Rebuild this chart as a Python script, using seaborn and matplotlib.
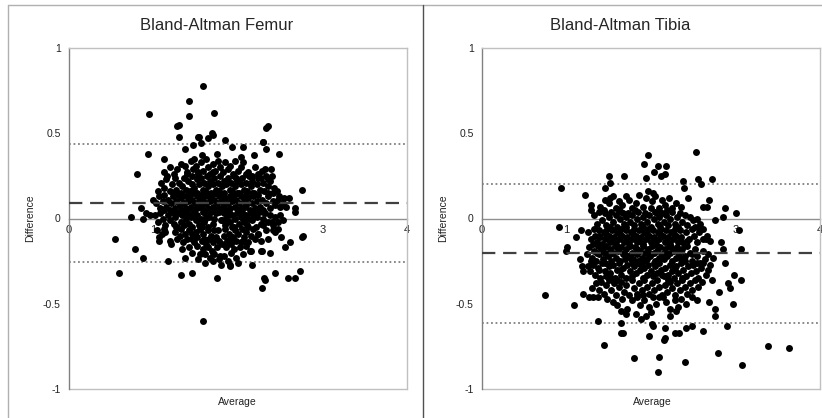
import matplotlib
matplotlib.use("Agg")
import matplotlib.pyplot as plt
from matplotlib.lines import Line2D
import seaborn as sns
import pandas as pd

# ----------------- data (average, difference) -----------------
fem_outliers = [
    (1.59, 0.78), (1.42, 0.69), (1.72, 0.62), (0.95, 0.61), (1.42, 0.60), (1.28, 0.54), (1.30, 0.55),
    (2.33, 0.53), (2.35, 0.54), (1.30, 0.48), (1.53, 0.48), (1.69, 0.50), (1.71, 0.49), (0.94, 0.38),
    (0.81, 0.26), (2.29, 0.45), (2.33, 0.41), (2.48, 0.38), (1.13, 0.35), (2.76, 0.17), (2.67, 0.04),
    (2.68, 0.06), (2.76, -0.11), (0.54, -0.12), (0.59, -0.32), (0.78, -0.18), (0.88, -0.23), (0.73, 0.01),
    (0.85, 0.06), (0.87, 0.00), (0.91, 0.03), (0.96, 0.02), (1.17, -0.25), (1.33, -0.33), (1.45, -0.32),
    (1.37, -0.23), (1.59, -0.60), (1.75, -0.35), (2.28, -0.41), (2.31, -0.35), (2.32, -0.36), (2.44, -0.32),
    (2.59, -0.35), (2.68, -0.35), (2.73, -0.31), (2.56, -0.17), (2.62, -0.14), (2.51, -0.11), (2.38, -0.20),
    (2.28, -0.19), (2.17, -0.27), (2.15, -0.19), (1.90, -0.28), (1.91, -0.27), (1.80, -0.27), (1.61, -0.26),
    (1.71, -0.20), (1.79, -0.22), (1.37, 0.41), (1.47, 0.43), (1.54, 0.48), (1.56, 0.44), (1.64, 0.47),
    (1.85, 0.46), (1.93, 0.42), (2.06, 0.42), (2.19, 0.37), (2.30, 0.45), (1.75, 0.38), (2.03, 0.36),
    (2.77, -0.10), (2.42, -0.07), (2.30, -0.04), (2.52, 0.08), (1.48, 0.35), (1.16, 0.25),
]
fem_upper = [
    (1.12, 0.27), (1.20, 0.30), (1.24, 0.26), (1.28, 0.29), (1.33, 0.32), (1.37, 0.31), (1.40, 0.27),
    (1.44, 0.34), (1.47, 0.29), (1.50, 0.31), (1.53, 0.26), (1.56, 0.33), (1.59, 0.28), (1.62, 0.35),
    (1.64, 0.30), (1.67, 0.26), (1.70, 0.32), (1.73, 0.28), (1.76, 0.34), (1.79, 0.30), (1.82, 0.27),
    (1.85, 0.33), (1.88, 0.29), (1.91, 0.31), (1.94, 0.26), (1.97, 0.34), (2.00, 0.28), (2.03, 0.30),
    (2.06, 0.33), (2.12, 0.27), (2.16, 0.25), (2.20, 0.30), (2.24, 0.26), (2.28, 0.28), (2.32, 0.29),
    (2.36, 0.23), (2.39, 0.29), (2.40, 0.25), (1.57, 0.37),
    (1.05, 0.16), (1.09, 0.21), (1.13, 0.18), (1.15, 0.23), (1.19, 0.16), (1.22, 0.20), (1.25, 0.24),
    (1.27, 0.17), (1.30, 0.21), (1.32, 0.15), (1.34, 0.19), (1.36, 0.24), (1.38, 0.17), (1.41, 0.22),
    (1.43, 0.16), (1.45, 0.20), (1.46, 0.25), (1.48, 0.18), (1.51, 0.23), (1.52, 0.15), (1.54, 0.20),
    (1.56, 0.24), (1.58, 0.17), (1.60, 0.21), (1.61, 0.16), (1.63, 0.25), (1.65, 0.19), (1.67, 0.22),
    (1.68, 0.15), (1.70, 0.20), (1.72, 0.24), (1.74, 0.17), (1.76, 0.21), (1.77, 0.16), (1.79, 0.25),
    (1.81, 0.19), (1.83, 0.22), (1.84, 0.15), (1.86, 0.20), (1.88, 0.24), (1.90, 0.17), (1.92, 0.21),
    (1.93, 0.16), (1.95, 0.25), (1.97, 0.19), (1.99, 0.22), (2.01, 0.15), (2.03, 0.20), (2.05, 0.24),
    (2.07, 0.17), (2.09, 0.21), (2.11, 0.16), (2.13, 0.25), (2.15, 0.19), (2.17, 0.22), (2.19, 0.15),
    (2.22, 0.20), (2.24, 0.24), (2.26, 0.17), (2.29, 0.21), (2.31, 0.16), (2.33, 0.25), (2.36, 0.19),
    (2.38, 0.22), (2.41, 0.15), (2.43, 0.18), (2.46, 0.16), (2.49, 0.13), (2.54, 0.12), (1.40, 0.26),
    (1.71, 0.27), (1.98, 0.24), (2.27, 0.24), (1.53, 0.27), (2.10, 0.26),
]
fem_middle = [
    (0.99, 0.11), (1.03, 0.09), (1.06, 0.13), (1.08, 0.06), (1.11, 0.10), (1.13, 0.14), (1.15, 0.07),
    (1.17, 0.11), (1.19, 0.05), (1.21, 0.09), (1.23, 0.13), (1.25, 0.06), (1.27, 0.10), (1.29, 0.14),
    (1.31, 0.08), (1.33, 0.12), (1.34, 0.05), (1.36, 0.09), (1.38, 0.13), (1.39, 0.06), (1.41, 0.10),
    (1.43, 0.14), (1.44, 0.07), (1.46, 0.11), (1.48, 0.05), (1.49, 0.09), (1.51, 0.13), (1.52, 0.06),
    (1.54, 0.10), (1.56, 0.14), (1.57, 0.08), (1.59, 0.12), (1.60, 0.05), (1.62, 0.09), (1.64, 0.13),
    (1.65, 0.06), (1.67, 0.10), (1.69, 0.14), (1.70, 0.07), (1.72, 0.11), (1.74, 0.05), (1.75, 0.09),
    (1.77, 0.13), (1.78, 0.06), (1.80, 0.10), (1.82, 0.14), (1.83, 0.08), (1.85, 0.12), (1.86, 0.05),
    (1.88, 0.09), (1.90, 0.13), (1.91, 0.06), (1.93, 0.10), (1.95, 0.14), (1.96, 0.07), (1.98, 0.11),
    (2.00, 0.05), (2.01, 0.09), (2.03, 0.13), (2.05, 0.06), (2.07, 0.10), (2.09, 0.14), (2.10, 0.08),
    (2.12, 0.12), (2.14, 0.05), (2.16, 0.09), (2.18, 0.13), (2.20, 0.06), (2.22, 0.10), (2.24, 0.14),
    (2.26, 0.07), (2.28, 0.11), (2.30, 0.05), (2.33, 0.09), (2.35, 0.13), (2.38, 0.06), (2.41, 0.10),
    (2.44, 0.08), (2.47, 0.11), (2.50, 0.07), (2.53, 0.09), (2.57, 0.07), (2.60, 0.12), (1.45, 0.15),
    (1.63, 0.15), (1.81, 0.06), (1.99, 0.15), (2.17, 0.15), (1.26, 0.15), (1.12, 0.05), (2.36, 0.15),
    (1.55, 0.07), (1.73, 0.15), (1.92, 0.12), (2.08, 0.07),
    (1.02, 0.02), (1.05, -0.02), (1.08, 0.03), (1.11, 0.00), (1.14, -0.04), (1.17, 0.02), (1.20, -0.01),
    (1.22, 0.04), (1.24, -0.03), (1.26, 0.01), (1.28, -0.05), (1.30, 0.03), (1.32, -0.02), (1.34, 0.02),
    (1.36, -0.04), (1.38, 0.00), (1.40, 0.04), (1.42, -0.03), (1.44, 0.01), (1.46, -0.05), (1.48, 0.03),
    (1.50, -0.01), (1.52, 0.02), (1.54, -0.04), (1.56, 0.00), (1.58, 0.04), (1.60, -0.02), (1.62, 0.02),
    (1.64, -0.05), (1.66, 0.01), (1.68, 0.04), (1.70, -0.03), (1.72, 0.00), (1.74, 0.03), (1.81, -0.01),
    (1.83, 0.03), (1.85, -0.04), (1.87, 0.01), (1.89, 0.04), (1.91, -0.02), (1.93, 0.02), (1.95, -0.05),
    (1.97, 0.00), (1.99, 0.03), (2.01, -0.03), (2.03, 0.01), (2.05, 0.04), (2.07, -0.02), (2.09, 0.02),
    (2.11, -0.04), (2.13, 0.00), (2.15, 0.03), (2.17, -0.01), (2.19, 0.02), (2.21, -0.05), (2.23, 0.01),
    (2.25, 0.04), (2.27, -0.03), (2.30, 0.00), (2.32, 0.03), (2.35, -0.02), (2.38, 0.02), (2.41, -0.04),
    (2.44, 0.01), (2.47, -0.02), (2.50, 0.02), (2.53, -0.01), (1.76, -0.07), (1.80, -0.01), (1.78, 0.04),
    (1.47, 0.05), (1.65, 0.05), (1.84, 0.05), (2.02, 0.05), (2.20, 0.05), (1.33, 0.05), (1.57, -0.05),
    (1.93, -0.05), (2.12, -0.05), (1.25, 0.03), (1.41, 0.02), (1.61, 0.00), (1.86, 0.00), (2.06, 0.00),
    (2.29, 0.04),
]
fem_lower = [
    (1.04, -0.07), (1.07, -0.11), (1.10, -0.09), (1.13, -0.06), (1.14, -0.08), (1.06, -0.13), (1.19, -0.13),
    (1.21, -0.15), (1.25, -0.08), (1.28, -0.12), (1.31, -0.10), (1.33, -0.06), (1.35, -0.14), (1.37, -0.09),
    (1.40, -0.12), (1.42, -0.07), (1.45, -0.12), (1.48, -0.14), (1.50, -0.08), (1.52, -0.11), (1.55, -0.06),
    (1.57, -0.13), (1.59, -0.09), (1.62, -0.15), (1.64, -0.07), (1.66, -0.12), (1.68, -0.10), (1.70, -0.14),
    (1.72, -0.07), (1.74, -0.11), (1.77, -0.13), (1.81, -0.15), (1.83, -0.10), (1.85, -0.06), (1.87, -0.13),
    (1.89, -0.09), (1.92, -0.15), (1.94, -0.11), (1.96, -0.07), (1.98, -0.13), (2.00, -0.09), (2.03, -0.14),
    (2.05, -0.06), (2.07, -0.11), (2.10, -0.08), (2.12, -0.14), (2.15, -0.10), (2.18, -0.06), (2.20, -0.12),
    (2.24, -0.09), (2.27, -0.13), (2.33, -0.07), (2.36, -0.12), (2.44, -0.08), (2.47, -0.06), (2.40, -0.02),
    (1.46, -0.09), (1.60, -0.12), (1.90, -0.12), (2.06, -0.13), (1.27, -0.05),
    (1.34, -0.18), (1.42, -0.17), (1.46, -0.20), (1.51, -0.16), (1.55, -0.21), (1.58, -0.18), (1.61, -0.21),
    (1.64, -0.17), (1.67, -0.23), (1.69, -0.19), (1.72, -0.21), (1.75, -0.17), (1.78, -0.24), (1.83, -0.22),
    (1.86, -0.17), (1.88, -0.25), (1.92, -0.20), (1.95, -0.18), (1.98, -0.23), (2.02, -0.17), (2.06, -0.21),
    (2.10, -0.16), (2.14, -0.19), (2.24, -0.09), (2.27, -0.19), (1.70, -0.25), (1.53, -0.24), (2.00, -0.26),
]

tib_outliers = [
    (2.53, 0.39), (1.96, 0.37), (1.92, 0.32), (2.08, 0.31), (2.18, 0.31), (2.03, 0.27), (2.17, 0.26),
    (2.12, 0.25), (1.50, 0.25), (1.68, 0.25), (1.51, 0.21), (1.94, 0.24), (2.38, 0.22), (2.56, 0.23),
    (2.72, 0.23), (2.59, 0.20), (2.39, 0.18), (0.94, 0.18), (1.46, 0.18), (1.22, 0.14), (1.29, 0.08),
    (1.29, 0.05), (0.91, -0.05), (1.00, -0.17), (0.99, -0.19), (1.11, -0.11), (1.17, -0.07), (0.74, -0.45),
    (1.09, -0.51), (1.16, -0.24), (1.18, -0.28), (1.20, -0.31), (1.20, -0.44), (1.27, -0.46), (1.31, -0.46),
    (1.37, -0.46), (1.30, -0.41), (1.37, -0.60), (1.44, -0.74), (1.64, -0.61), (1.65, -0.67), (1.67, -0.67),
    (1.70, -0.56), (1.80, -0.82), (1.82, -0.56), (1.88, -0.59), (1.94, -0.57), (1.98, -0.69), (2.01, -0.62),
    (2.02, -0.63), (2.09, -0.81), (2.08, -0.90), (2.16, -0.64), (2.15, -0.71), (2.17, -0.70), (2.22, -0.57),
    (2.28, -0.67), (2.33, -0.67), (2.40, -0.84), (2.42, -0.64), (2.48, -0.63), (2.61, -0.66), (2.79, -0.79),
    (2.69, -0.49), (2.76, -0.57), (2.76, -0.53), (2.80, -0.43), (2.90, -0.63), (2.97, -0.50), (3.08, -0.86),
    (3.39, -0.75), (3.63, -0.76), (2.87, -0.26), (2.85, -0.18), (2.83, -0.14), (2.76, -0.01), (2.85, 0.01),
    (2.87, 0.06), (3.00, 0.03), (3.04, -0.07), (3.07, -0.18), (3.06, -0.36), (2.98, -0.33), (2.91, -0.38),
    (2.93, -0.41), (2.69, 0.11), (2.62, 0.07), (2.66, 0.07), (2.65, -0.12),
]
tib_upper = [
    (1.40, 0.07), (1.45, 0.11), (1.50, 0.09), (1.55, 0.13), (1.58, 0.06), (1.62, 0.10), (1.66, 0.08),
    (1.70, 0.13), (1.74, 0.11), (1.78, 0.06), (1.82, 0.09), (1.86, 0.14), (1.90, 0.07), (1.94, 0.12),
    (1.97, 0.16), (2.01, 0.10), (2.05, 0.13), (2.09, 0.06), (2.13, 0.11), (2.17, 0.08), (2.21, 0.12),
    (2.25, 0.06), (2.30, 0.09), (2.36, 0.07), (2.44, 0.12), (2.02, 0.15), (1.52, 0.12),
    (1.33, 0.02), (1.36, -0.03), (1.39, 0.04), (1.42, -0.01), (1.45, 0.03), (1.47, -0.04), (1.50, 0.01),
    (1.53, 0.04), (1.55, -0.02), (1.58, 0.02), (1.60, -0.05), (1.63, 0.00), (1.65, 0.04), (1.68, -0.03),
    (1.70, 0.01), (1.73, 0.03), (1.75, -0.02), (1.78, 0.02), (1.80, -0.04), (1.83, 0.00), (1.85, 0.04),
    (1.88, -0.03), (1.90, 0.01), (1.93, 0.03), (1.95, -0.02), (1.98, 0.02), (2.00, -0.05), (2.03, 0.00),
    (2.05, 0.04), (2.08, -0.03), (2.10, 0.01), (2.13, 0.03), (2.15, -0.02), (2.18, 0.02), (2.20, -0.04),
    (2.23, 0.00), (2.25, 0.04), (2.28, -0.03), (2.31, 0.01), (2.34, 0.03), (2.37, -0.02), (2.40, 0.02),
    (2.43, -0.04), (2.46, 0.01), (2.50, -0.01), (2.54, 0.00), (2.58, -0.03), (1.44, 0.05), (1.62, 0.05),
    (1.81, 0.05), (2.00, 0.06), (2.19, 0.05), (1.71, -0.05), (1.91, -0.05), (2.11, -0.05), (2.32, -0.05),
    (1.52, -0.05), (2.52, -0.05), (1.67, 0.03), (2.07, 0.03),
]
tib_middle = [
    (1.26, -0.08), (1.29, -0.12), (1.32, -0.06), (1.34, -0.10), (1.36, -0.14), (1.38, -0.07), (1.40, -0.11),
    (1.42, -0.15), (1.44, -0.08), (1.46, -0.12), (1.48, -0.06), (1.50, -0.10), (1.52, -0.14), (1.54, -0.07),
    (1.56, -0.11), (1.58, -0.15), (1.60, -0.08), (1.62, -0.12), (1.64, -0.06), (1.66, -0.10), (1.68, -0.14),
    (1.70, -0.07), (1.72, -0.11), (1.74, -0.15), (1.76, -0.08), (1.78, -0.12), (1.80, -0.06), (1.82, -0.10),
    (1.84, -0.14), (1.86, -0.07), (1.88, -0.11), (1.90, -0.15), (1.92, -0.08), (1.94, -0.12), (1.96, -0.06),
    (1.98, -0.10), (2.00, -0.14), (2.02, -0.07), (2.04, -0.11), (2.06, -0.15), (2.08, -0.08), (2.10, -0.12),
    (2.12, -0.06), (2.14, -0.10), (2.16, -0.14), (2.18, -0.07), (2.20, -0.11), (2.22, -0.15), (2.24, -0.08),
    (2.26, -0.12), (2.28, -0.06), (2.30, -0.10), (2.32, -0.14), (2.34, -0.07), (2.36, -0.11), (2.39, -0.15),
    (2.42, -0.08), (2.45, -0.12), (2.48, -0.06), (2.51, -0.10), (2.54, -0.14), (2.57, -0.08), (2.61, -0.12),
    (2.66, -0.10), (2.70, -0.13), (1.31, -0.15), (1.47, -0.09), (1.63, -0.09), (1.79, -0.09), (1.95, -0.09),
    (2.11, -0.09), (2.27, -0.09), (2.43, -0.13), (1.55, -0.13), (1.71, -0.13), (1.87, -0.13), (2.03, -0.13),
    (2.19, -0.13), (2.35, -0.13), (1.39, -0.10), (2.58, -0.06), (2.62, -0.06),
    (1.24, -0.21), (1.27, -0.17), (1.30, -0.23), (1.32, -0.19), (1.35, -0.25), (1.37, -0.16), (1.39, -0.21),
    (1.41, -0.18), (1.43, -0.24), (1.45, -0.20), (1.47, -0.16), (1.49, -0.22), (1.51, -0.18), (1.53, -0.25),
    (1.55, -0.20), (1.57, -0.16), (1.59, -0.23), (1.61, -0.19), (1.63, -0.25), (1.65, -0.17), (1.67, -0.21),
    (1.69, -0.24), (1.71, -0.18), (1.73, -0.22), (1.75, -0.16), (1.77, -0.20), (1.79, -0.24), (1.81, -0.17),
    (1.83, -0.21), (1.85, -0.25), (1.87, -0.19), (1.89, -0.23), (1.91, -0.16), (1.93, -0.20), (1.95, -0.24),
    (1.97, -0.18), (1.99, -0.22), (2.01, -0.16), (2.03, -0.20), (2.05, -0.25), (2.07, -0.19), (2.09, -0.23),
    (2.11, -0.17), (2.13, -0.21), (2.15, -0.24), (2.17, -0.18), (2.19, -0.22), (2.21, -0.16), (2.23, -0.20),
    (2.25, -0.25), (2.27, -0.19), (2.29, -0.23), (2.31, -0.17), (2.33, -0.21), (2.35, -0.24), (2.37, -0.18),
    (2.40, -0.22), (2.43, -0.16), (2.46, -0.20), (2.49, -0.25), (2.52, -0.18), (2.55, -0.22), (2.58, -0.26),
    (2.61, -0.19), (2.64, -0.24), (2.67, -0.21), (2.70, -0.27), (2.73, -0.23), (1.36, -0.20), (1.52, -0.21),
    (1.68, -0.20), (1.84, -0.18), (2.00, -0.21), (2.16, -0.20), (2.32, -0.19), (2.48, -0.21), (1.44, -0.17),
    (1.60, -0.17), (1.76, -0.24), (1.92, -0.25), (2.08, -0.17), (2.24, -0.17), (2.40, -0.25), (1.29, -0.25),
]
tib_lower = [
    (1.25, -0.28), (1.28, -0.31), (1.31, -0.27), (1.34, -0.33), (1.37, -0.29), (1.40, -0.35), (1.42, -0.26),
    (1.45, -0.31), (1.47, -0.34), (1.50, -0.28), (1.52, -0.32), (1.55, -0.27), (1.57, -0.35), (1.60, -0.30),
    (1.62, -0.26), (1.65, -0.33), (1.67, -0.29), (1.70, -0.35), (1.72, -0.27), (1.75, -0.31), (1.77, -0.34),
    (1.80, -0.28), (1.82, -0.32), (1.85, -0.26), (1.87, -0.30), (1.90, -0.35), (1.92, -0.29), (1.95, -0.33),
    (1.97, -0.27), (2.00, -0.31), (2.02, -0.34), (2.05, -0.28), (2.07, -0.32), (2.10, -0.26), (2.12, -0.30),
    (2.15, -0.34), (2.17, -0.29), (2.20, -0.33), (2.22, -0.27), (2.25, -0.31), (2.27, -0.35), (2.30, -0.28),
    (2.32, -0.32), (2.35, -0.26), (2.38, -0.30), (2.41, -0.34), (2.44, -0.28), (2.47, -0.32), (2.50, -0.27),
    (2.53, -0.31), (2.56, -0.35), (2.59, -0.29), (2.62, -0.26), (2.65, -0.33), (2.68, -0.30), (2.72, -0.36),
    (1.39, -0.30), (1.63, -0.30), (1.88, -0.27), (2.13, -0.33), (2.37, -0.35), (1.53, -0.35), (1.78, -0.26),
    (2.03, -0.26), (2.28, -0.29), (1.46, -0.26), (2.55, -0.26),
    (1.35, -0.38), (1.38, -0.42), (1.41, -0.37), (1.44, -0.44), (1.47, -0.39), (1.50, -0.36), (1.53, -0.42),
    (1.56, -0.38), (1.59, -0.45), (1.62, -0.40), (1.65, -0.37), (1.68, -0.43), (1.71, -0.39), (1.74, -0.45),
    (1.77, -0.36), (1.80, -0.41), (1.83, -0.44), (1.86, -0.38), (1.89, -0.42), (1.92, -0.36), (1.95, -0.40),
    (1.98, -0.44), (2.01, -0.38), (2.04, -0.42), (2.07, -0.36), (2.10, -0.40), (2.13, -0.45), (2.16, -0.39),
    (2.19, -0.43), (2.22, -0.37), (2.25, -0.41), (2.28, -0.45), (2.31, -0.38), (2.34, -0.42), (2.37, -0.36),
    (2.40, -0.40), (2.43, -0.44), (2.46, -0.38), (2.49, -0.42), (2.52, -0.36), (2.56, -0.40), (2.60, -0.37),
    (1.60, -0.36), (1.90, -0.45), (2.20, -0.36),
    (1.48, -0.47), (1.55, -0.49), (1.60, -0.51), (1.66, -0.47), (1.72, -0.53), (1.78, -0.48), (1.83, -0.46),
    (1.87, -0.51), (1.92, -0.48), (1.98, -0.52), (2.02, -0.46), (2.06, -0.50), (2.10, -0.46), (2.14, -0.46),
    (2.18, -0.49), (2.22, -0.53), (2.28, -0.48), (2.32, -0.52), (2.36, -0.47), (2.42, -0.50), (2.48, -0.46),
    (2.55, -0.48), (1.64, -0.54), (2.00, -0.55), (2.30, -0.54),
]

# mean difference and limits of agreement
fem_lines = {"mean": 0.09, "upper": 0.437, "lower": -0.258}
tib_lines = {"mean": -0.205, "upper": 0.205, "lower": -0.61}

titles = ["Bland-Altman Femur", "Bland-Altman Tibia"]
y_ticks = [-1, -0.5, 0, 0.5, 1]
y_labels = ["-1", "-0.5", "0", "0.5", "1"]
x_ticks = [0, 1, 2, 3, 4]
x_labels = ["0", "1", "2", "3", "4"]

sns.set_style("white")
plt.rcParams["font.family"] = ["Liberation Sans", "DejaVu Sans"]

W, H = 822, 418
fig = plt.figure(figsize=(W / 100, H / 100), dpi=100)


def to_df(*groups):
    rows = [p for g in groups for p in g]
    return pd.DataFrame(rows, columns=["Average", "Difference"])


def draw_panel(left_px, df, lines, title, title_x, label_x, avg_x):
    ax = fig.add_axes([left_px / W, (H - 389) / H, 338 / W, 341 / H])
    sns.scatterplot(data=df, x="Average", y="Difference", ax=ax, color="black",
                    s=25, linewidth=0, alpha=1, zorder=3)
    ax.set_xlim(0, 4)
    ax.set_ylim(-1, 1)

    ax.axhline(lines["mean"], color="#404040", lw=1.6, ls=(0, (6, 3.5)), zorder=4)
    ax.axhline(lines["upper"], color="#808080", lw=1.3, ls=(0, (1, 1.5)), zorder=2)
    ax.axhline(lines["lower"], color="#808080", lw=1.3, ls=(0, (1, 1.5)), zorder=2)
    ax.axhline(-1, color="#c0c0c0", lw=1, clip_on=False, zorder=1)

    for side in ["top", "right"]:
        ax.spines[side].set_color("#c0c0c0")
        ax.spines[side].set_linewidth(1)
    ax.spines["left"].set_color("#808080")
    ax.spines["left"].set_linewidth(1)
    ax.spines["bottom"].set_position(("data", 0))
    ax.spines["bottom"].set_color("#909090")
    ax.spines["bottom"].set_linewidth(1)
    ax.spines["bottom"].set_zorder(1)

    ax.set_yticks(y_ticks)
    ax.set_yticklabels(y_labels)
    ax.set_xticks(x_ticks)
    ax.set_xticklabels(x_labels)
    ax.tick_params(axis="y", direction="out", length=4, width=1, color="#808080",
                   labelsize=7.5, labelcolor="#222222", pad=2)
    ax.tick_params(axis="x", direction="inout", length=6, width=1, color="#808080",
                   labelsize=8, labelcolor="#222222", pad=2)
    ax.set_xlabel("")
    ax.set_ylabel("")

    fig.text(title_x / W, 1 - 26 / H, title, ha="center", va="center", fontsize=12)
    fig.text(label_x / W, 1 - 218 / H, "Difference", ha="center", va="center",
             rotation=90, fontsize=7.5, color="#222222")
    fig.text(avg_x / W, 1 - 402 / H, "Average", ha="center", va="center",
             fontsize=7.5, color="#222222")
    return ax


draw_panel(69, to_df(fem_outliers, fem_upper, fem_middle, fem_lower), fem_lines,
           titles[0], 217, 30, 237)
draw_panel(482, to_df(tib_outliers, tib_upper, tib_middle, tib_lower), tib_lines,
           titles[1], 620, 443, 652)

# chart-area borders (Excel-like frames)
fig.add_artist(Line2D([8 / W, 1], [1 - 5 / H, 1 - 5 / H], transform=fig.transFigure,
                      color="#b0b0b0", lw=1))
fig.add_artist(Line2D([8 / W, 8 / W], [0, 1 - 5 / H], transform=fig.transFigure,
                      color="#b0b0b0", lw=1))
fig.add_artist(Line2D([423 / W, 423 / W], [0, 1 - 5 / H], transform=fig.transFigure,
                      color="#505050", lw=1))

fig.savefig("out.png", dpi=100)
